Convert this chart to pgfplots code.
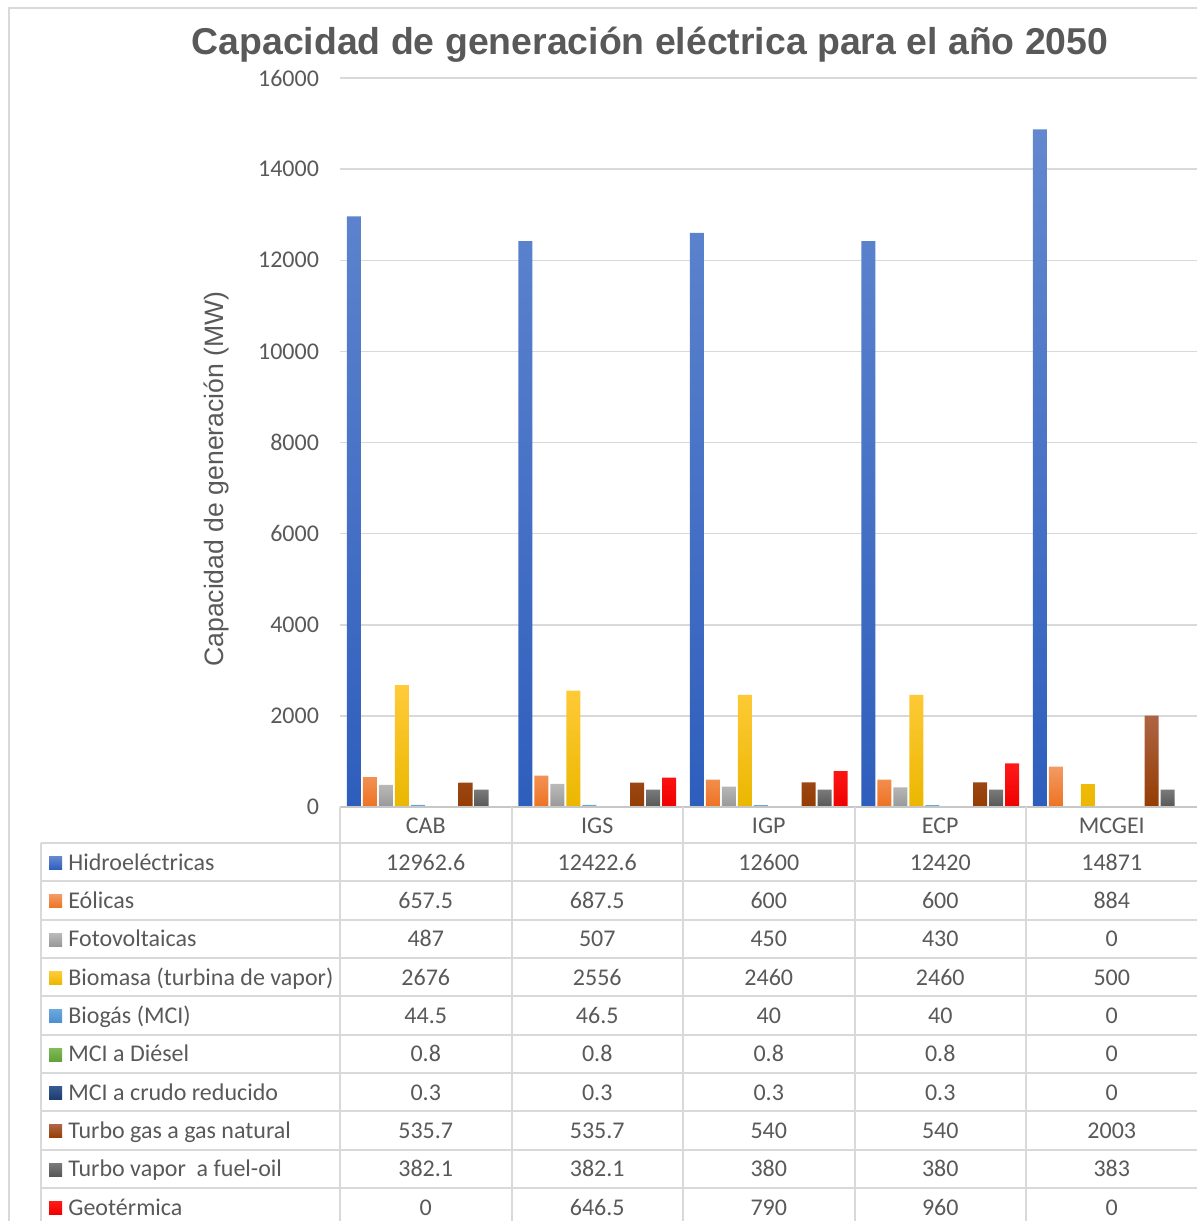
\documentclass[border=0pt]{standalone}
\usepackage{pgfplots}
\pgfplotsset{compat=1.18}
\usepackage{pgfplotstable}
\usepackage{fontspec}
\setmainfont{Carlito}
\newfontfamily\arial{Liberation Sans}

\definecolor{txt}{HTML}{595959}
\definecolor{gridc}{HTML}{D9D9D9}
\definecolor{linec}{HTML}{D9D9D9}
\definecolor{hT}{HTML}{6388CF}\definecolor{hB}{HTML}{2E5EBD}
\definecolor{eT}{HTML}{F39A62}\definecolor{eB}{HTML}{EE7222}
\definecolor{fT}{HTML}{BABABA}\definecolor{fB}{HTML}{989898}
\definecolor{bT}{HTML}{FFCB3A}\definecolor{bB}{HTML}{EBB700}
\definecolor{gT}{HTML}{6BA7DD}\definecolor{gB}{HTML}{4A8ECE}
\definecolor{dT}{HTML}{80BC58}\definecolor{dB}{HTML}{62A03A}
\definecolor{cT}{HTML}{365A92}\definecolor{cB}{HTML}{1F3C6C}
\definecolor{tgT}{HTML}{AE6444}\definecolor{tgB}{HTML}{943C02}
\definecolor{tvT}{HTML}{7A7A7A}\definecolor{tvB}{HTML}{575757}
\definecolor{rT}{HTML}{FF1A1A}\definecolor{rB}{HTML}{F00000}

% installed capacity (MW) per scenario
\pgfplotstableread{
idx H E F B BG D C TG TV G
0 12962.6 657.5 487 2676 44.5 0.8 0.3 535.7 382.1 0
1 12422.6 687.5 507 2556 46.5 0.8 0.3 535.7 382.1 646.5
2 12600 600 450 2460 40 0.8 0.3 540 380 790
3 12420 600 430 2460 40 0.8 0.3 540 380 960
4 14871 884 0 500 0 0 0 2003 383 0
}\datatable

\begin{document}
\begin{tikzpicture}
\useasboundingbox (0,0) rectangle (598.5pt,-610.5pt);

\begin{axis}[
  at={(170pt,-403.5pt)}, anchor=south west,
  scale only axis, width=428.75pt, height=364.5pt,
  xmin=-0.5, xmax=4.5, ymin=0, ymax=16000,
  ybar=0.975pt, bar width=7pt,
  axis line style={draw=none},
  major tick length=0pt,
  xtick=\empty,
  ytick={0,2000,...,16000},
  scaled y ticks=false,
  ymajorgrids, grid style={color=gridc, line width=0.75pt},
  /pgf/number format/.cd, fixed, 1000 sep={}, assume math mode=true,
  /pgfplots/.cd,
  yticklabel style={font=\fontsize{12}{14}\selectfont, text=txt, xshift=-7pt},
  clip=false,
]
\addplot[draw=none, top color=hT, bottom color=hB] table[x=idx,y=H]{\datatable};
\addplot[draw=none, top color=eT, bottom color=eB] table[x=idx,y=E]{\datatable};
\addplot[draw=none, top color=fT, bottom color=fB] table[x=idx,y=F]{\datatable};
\addplot[draw=none, top color=bT, bottom color=bB] table[x=idx,y=B]{\datatable};
\addplot[draw=none, top color=gT, bottom color=gB] table[x=idx,y=BG]{\datatable};
\addplot[draw=none, top color=dT, bottom color=dB] table[x=idx,y=D]{\datatable};
\addplot[draw=none, top color=cT, bottom color=cB] table[x=idx,y=C]{\datatable};
\addplot[draw=none, top color=tgT, bottom color=tgB] table[x=idx,y=TG]{\datatable};
\addplot[draw=none, top color=tvT, bottom color=tvB] table[x=idx,y=TV]{\datatable};
\addplot[draw=none, top color=rT, bottom color=rB] table[x=idx,y=G]{\datatable};
\end{axis}

\begin{scope}[x=0.5pt, y=-0.5pt]
  % outer chart frame
  \draw[linec, line width=1pt] (9,1400) -- (9,8) -- (1400,8);
  % title and axis title
  \node[font=\arial\bfseries\fontsize{18.7}{22}\selectfont, text=txt, anchor=base]
    at (650,54) {Capacidad de generación eléctrica para el año 2050};
  \node[rotate=90, font=\arial\fontsize{13.3}{16}\selectfont, text=txt]
    at (216,479) {Capacidad de generación (MW)};
  % data table grid
  \draw[color=gridc!80!gray, line width=0.9pt] (340,807) -- (1200,807);
  \foreach \k in {0,...,10} \draw[linec, line width=1pt] (41,{843+38.33*\k}) -- (1200,{843+38.33*\k});
  \draw[linec, line width=1pt] (41,843) -- (41,1400);
  \foreach \k in {0,...,5} \draw[linec, line width=1pt] ({340+171.5*\k},807) -- ({340+171.5*\k},1400);
  % category headers
  \foreach \c [count=\i from 0] in {CAB,IGS,IGP,ECP,MCGEI}
    \node[font=\fontsize{12}{14}\selectfont, text=txt, text height=1.6ex, text depth=0.3ex]
      at ({425.75+171.5*\i},827) {\c};
  % series rows: key, name and values
  \foreach \col/\name/\ctop/\cbot [count=\r from 0] in {
      H/Hidroeléctricas/hT/hB,
      E/Eólicas/eT/eB,
      F/Fotovoltaicas/fT/fB,
      B/Biomasa (turbina de vapor)/bT/bB,
      BG/Biogás (MCI)/gT/gB,
      D/MCI a Diésel/dT/dB,
      C/MCI a crudo reducido/cT/cB,
      TG/Turbo gas a gas natural/tgT/tgB,
      TV/Turbo vapor\ \ a fuel-oil/tvT/tvB,
      G/Geotérmica/rT/rB}{
    \pgfmathsetmacro\yc{864+38.33*\r}
    \fill[top color=\ctop, bottom color=\cbot] (49,\yc-7.5) rectangle (62,\yc+5.5);
    \node[anchor=west, font=\fontsize{12}{14}\selectfont, text=txt, inner sep=0pt,
          text height=1.6ex, text depth=0.3ex] at (68,\yc) {\name};
    \foreach \i in {0,...,4}{
      \pgfplotstablegetelem{\i}{\col}\of\datatable
      \node[font=\fontsize{12}{14}\selectfont, text=txt, text height=1.6ex, text depth=0.3ex]
        at ({425.75+171.5*\i},\yc) {\pgfplotsretval};
    }
  }
\end{scope}
\end{tikzpicture}
\end{document}
